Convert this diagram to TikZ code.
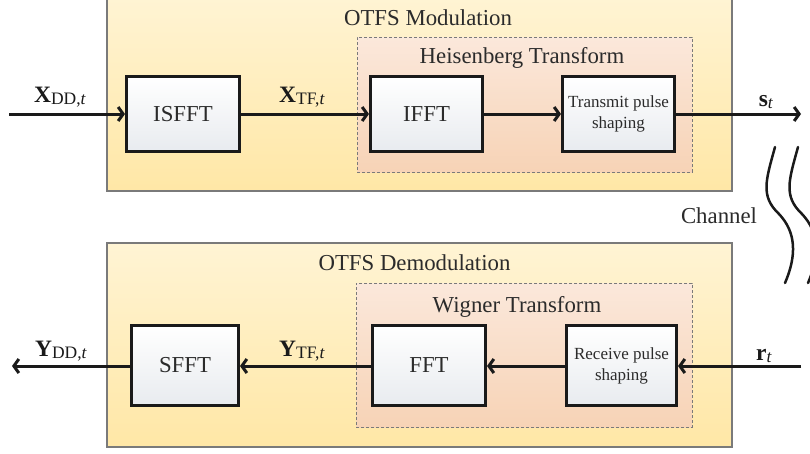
\documentclass[tikz,border=0pt]{standalone}
\usepackage{fontspec}
\setmainfont{Liberation Serif}
\usetikzlibrary{arrows.meta}
\definecolor{linecol}{HTML}{1A1A1A}
\definecolor{txtcol}{HTML}{2B2B2B}
\definecolor{outtop}{HTML}{FFF4D4}
\definecolor{outbot}{HTML}{FFE7A6}
\definecolor{intop}{HTML}{FBE8DB}
\definecolor{inbot}{HTML}{F7D3B6}
\definecolor{blkbot}{HTML}{E8EBEF}
\definecolor{outline}{HTML}{7A7A7A}
\newcommand{\siglbl}[2]{\textbf{#1}\raisebox{-0.25ex}{\fontsize{17.5}{17.5}\selectfont #2}}
\begin{document}
\begin{tikzpicture}[x=1pt,y=-1pt,
  outerbox/.style={draw=outline, line width=1.5pt, top color=outtop, bottom color=outbot, inner sep=0pt},
  innerbox/.style={draw=outline, densely dashed, line width=0.7pt, top color=intop, bottom color=inbot, inner sep=0pt},
  blockbox/.style={draw=linecol, line width=3pt, top color=white, bottom color=blkbot, inner sep=0pt, align=center, text=txtcol, font=\fontsize{22.8}{26}\selectfont},
  smallblock/.style={blockbox, font=\fontsize{17}{21}\selectfont},
  conn/.style={line width=3pt, draw=linecol, -{Straight Barb[length=5pt,width=14pt]}},
  titletext/.style={anchor=base, text=txtcol, font=\fontsize{22.8}{26}\selectfont, inner sep=0pt},
  siglabel/.style={anchor=base, text=linecol, font=\fontsize{23.5}{26}\selectfont, inner sep=0pt},
  wave/.style={line width=2.5pt, draw=linecol, line cap=round}
]
\useasboundingbox (0,0) rectangle (810,453);
\clip (0,0) rectangle (810,453);

% ---- Modulation ----
\node[outerbox, minimum width=625pt, minimum height=196pt] (mod) at (419.5,93) {};
\node[innerbox, minimum width=335pt, minimum height=135pt] (heis) at (524.5,104.5) {};
\node[titletext] (modtitle) at (428,25) {OTFS Modulation};
\node[titletext] (heistitle) at (522,63) {Heisenberg Transform};

\node[blockbox, minimum width=113pt, minimum height=75pt] (isfft) at (183,114) {ISFFT};
\node[blockbox, minimum width=112pt, minimum height=75pt] (ifft) at (426.5,114) {IFFT};
\node[smallblock, minimum width=112pt, minimum height=75pt] (tx) at (618.5,114) {Transmit pulse\\shaping};

\coordinate (xin) at (9,114);
\coordinate (sout) at (801,114);
\draw[conn] (xin) -- (isfft);
\draw[conn] (isfft) -- (ifft);
\draw[conn] (ifft) -- (tx);
\draw[conn] (tx) -- (sout);

\node[siglabel] (xdd) at (60,102) {\siglbl{X}{DD,\textit{t}}};
\node[siglabel] (xtf) at (302,102) {\siglbl{X}{TF,\textit{t}}};
\node[siglabel] (st) at (766,106) {\siglbl{s}{\textit{t}}};

% ---- Channel ----
\node[titletext] (chan) at (719,223) {Channel};
\draw[wave] (775,147) .. controls (766,180) and (760,196) .. (779,214) .. controls (796,232) and (797,255) .. (785,283);
\draw[wave] (798,147) .. controls (789,180) and (783,196) .. (802,214) .. controls (819,232) and (820,255) .. (808,283);

% ---- Demodulation ----
\node[outerbox, minimum width=625pt, minimum height=204pt] (demod) at (419.5,345) {};
\node[innerbox, minimum width=336pt, minimum height=144pt] (wig) at (524,355) {};
\node[titletext] (demtitle) at (414.5,270) {OTFS Demodulation};
\node[titletext] (wigtitle) at (517,312) {Wigner Transform};

\node[blockbox, minimum width=107pt, minimum height=80pt] (sfft) at (185,365.5) {SFFT};
\node[blockbox, minimum width=113pt, minimum height=80pt] (fft) at (429,365.5) {FFT};
\node[smallblock, minimum width=110pt, minimum height=80pt] (rx) at (621.5,365.5) {Receive pulse\\shaping};

\coordinate (rin) at (801,366);
\coordinate (yout) at (12,366);
\draw[conn] (rin) -- (rx.east |- rin);
\draw[conn] (rx.west |- rin) -- (fft.east |- rin);
\draw[conn] (fft.west |- rin) -- (sfft.east |- rin);
\draw[conn] (sfft.west |- rin) -- (yout);

\node[siglabel] (ydd) at (61,356) {\siglbl{Y}{DD,\textit{t}}};
\node[siglabel] (ytf) at (302,356) {\siglbl{Y}{TF,\textit{t}}};
\node[siglabel] (rt) at (764,360) {\siglbl{r}{\textit{t}}};
\end{tikzpicture}
\end{document}
